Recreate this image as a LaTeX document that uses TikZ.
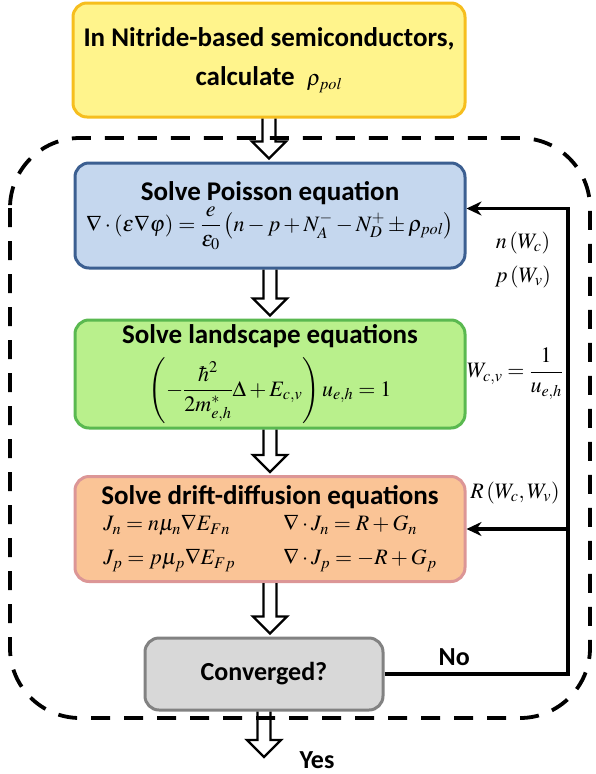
\documentclass[tikz,border=0pt]{standalone}
\usepackage{amsmath}
\usepackage{mathptmx}
\usepackage[no-math]{fontspec}
\setmainfont{Carlito}
\usetikzlibrary{arrows.meta, calc}

\definecolor{yelfill}{RGB}{255,244,140}
\definecolor{yeldraw}{RGB}{246,190,30}
\definecolor{blufill}{RGB}{197,215,238}
\definecolor{bludraw}{RGB}{60,95,145}
\definecolor{grnfill}{RGB}{185,240,140}
\definecolor{grndraw}{RGB}{90,185,80}
\definecolor{orgfill}{RGB}{250,196,150}
\definecolor{orgdraw}{RGB}{220,150,150}
\definecolor{gryfill}{RGB}{216,216,216}
\definecolor{grydraw}{RGB}{130,130,130}

\newcommand{\eqsize}{\fontsize{22}{26}\selectfont}
% hollow down arrow from a box anchor to a point below it
\newcommand{\hollowarrow}[2]{%
  \draw [hollow] ($(#1)+(-6.5,0)$) -- ($(#1 |- #2)+(-6.5,-20)$) -- ++(-10.5,0)
    -- ($(#1 |- #2)+(0,-3)$) -- ($(#1 |- #2)+(17,-20)$) -- ++(-10.5,0) -- ($(#1)+(6.5,0)$);}

\begin{document}
\begin{tikzpicture}[
    x=1pt, y=-1pt,
    box/.style={rectangle, line width=3pt, rounded corners=14pt, minimum width=390pt, minimum height=105pt, align=center, inner sep=2pt, font=\fontsize{27}{31}\selectfont\bfseries},
    hollow/.style={draw=black, line width=2.4pt, line join=miter},
    feedback/.style={draw=black, line width=3.6pt, -{Stealth[length=15pt, width=14pt]}},
    lbl/.style={font=\eqsize},
    word/.style={font=\fontsize{26}{30}\selectfont\bfseries}
  ]
  \useasboundingbox (0,0) rectangle (595,774);

  % Loop frame
  \draw [line width=3.8pt, dash pattern=on 19pt off 14pt, rounded corners=70pt] (10,138) rectangle (590,718);

  % Top: polarization charge
  \node [box, draw=yeldraw, fill=yelfill, minimum width=392pt, minimum height=114pt] (pol) at (269,60)
    {In Nitride-based semiconductors,\\[8pt] calculate \ {\eqsize$\rho_{pol}$}};

  % Solver steps
  \node [box, draw=bludraw, fill=blufill] (poisson) at (270,215.5)
    {Solve Poisson equation\\[0pt] \eqsize$\nabla\cdot\left(\varepsilon\nabla\varphi\right)=\dfrac{e}{\varepsilon_0}\left(n-p+N_A^-{}-N_D^+\pm\rho_{pol}\right)$};
  \node [box, draw=grndraw, fill=grnfill, minimum height=108pt] (land) at (270,374)
    {Solve landscape equations\\[9pt] \eqsize$\left(-\dfrac{\hbar^2}{2m_{e,h}^*}\Delta+E_{c,v}\right)u_{e,h}=1$};
  \node [box, draw=orgdraw, fill=orgfill] (dd) at (270,529)
    {Solve drift-diffusion equations\\[3pt] \eqsize
     \begin{tabular}{@{}l@{\hspace{48pt}}l@{}}
       $J_n=n\mu_n\nabla E_{Fn}$ & $\nabla\cdot J_n=R+G_n$\\[8pt]
       $J_p=p\mu_p\nabla E_{Fp}$ & $\nabla\cdot J_p=-R+G_p$
     \end{tabular}};

  % Bottom: convergence check
  \node [box, draw=grydraw, fill=gryfill, minimum width=238pt, minimum height=72pt, font=\fontsize{26}{30}\selectfont\bfseries] (conv) at (264,674) {Converged?};

  % Right: landscape quantities
  \node [lbl] (nwc) at (523,243) {$n\left(W_c\right)$};
  \node [lbl] (pwv) at (523,277) {$p\left(W_v\right)$};
  \node [lbl] (wcv) at (515,374) {$W_{c,v}=\dfrac{1}{u_{e,h}}$};
  \node [lbl] (rwcv) at (515,493) {$R\left(W_c,W_v\right)$};

  % Connections
  \coordinate (rail) at (568,0);
  \coordinate (pin) at ([yshift=7pt]poisson.east);
  \coordinate (yesend) at (266,760);
  \hollowarrow{pol.south}{poisson.north}
  \hollowarrow{poisson.south}{land.north}
  \hollowarrow{land.south}{dd.north}
  \hollowarrow{dd.south}{conv.north}
  \hollowarrow{conv.south}{yesend}
  \node [word, right] (yes) at (296,760) {Yes};

  \path [feedback] (conv.east) -- node[word, above=3pt, pos=0.38] (no) {No} (conv.east -| rail) -- (pin -| rail) -- (pin);
  \path [feedback] (rail |- dd.east) -- (dd.east);
\end{tikzpicture}
\end{document}
